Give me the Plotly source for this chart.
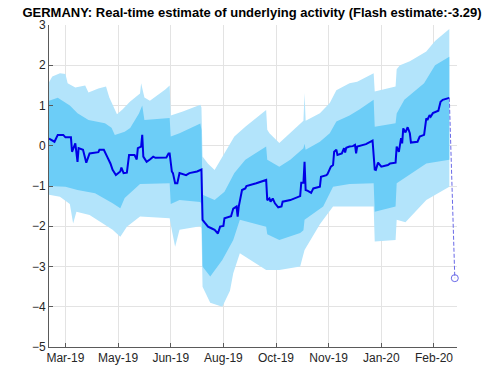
import pandas as pd
import plotly.graph_objects as go

START = "2019-03-10"  # day 0 of the series

# Main real-time estimate (days since START, value)
main_day = [0, 3, 5, 8, 13, 15, 20, 21, 24, 26, 27, 31, 33, 34, 37, 45, 46, 50, 53, 56,
            58, 61, 65, 66, 68, 71, 73, 78, 80, 81, 84, 85, 86, 89, 92, 95, 97, 107, 109, 110,
            112, 113, 115, 117, 119, 125, 128, 135, 139, 140, 142, 145, 148, 151, 154, 156, 159, 160, 166, 168,
            171, 172, 173, 174, 176, 179, 180, 189, 194, 198, 199, 201, 202, 204, 206, 209, 212, 213, 220, 229,
            230, 232, 233, 234, 236, 239, 241, 247, 248, 253, 254, 257, 259, 260, 262, 263, 267, 269, 270, 271,
            274, 277, 279, 280, 281, 289, 295, 297, 298, 300, 303, 309, 311, 316, 317, 319, 321, 322, 323, 325,
            327, 329, 330, 336, 338, 342, 344, 345, 347, 348, 350, 353, 355, 357, 359, 365]
main_val = [0.18, 0.12, 0.10, 0.27, 0.27, 0.21, 0.21, -0.15, 0.06, -0.40, -0.06, -0.10, -0.35, -0.42, -0.19, -0.16, -0.10, -0.10, -0.27, -0.44,
            -0.60, -0.73, -0.64, -0.54, -0.68, -0.67, -0.23, -0.23, -0.34, -0.06, -0.02, 0.27, -0.27, -0.40, -0.34, -0.27, -0.30, -0.29, -0.19, -0.19,
            -0.64, -0.68, -0.93, -0.93, -0.68, -0.73, -0.68, -0.64, -0.59, -1.84, -1.91, -2.01, -2.05, -2.09, -2.18, -2.01, -1.99, -1.80, -1.75, -1.56,
            -1.51, -1.76, -1.51, -1.39, -1.10, -1.06, -1.00, -0.93, -0.89, -0.85, -1.35, -1.31, -1.39, -1.31, -1.43, -1.53, -1.51, -1.39, -1.35, -1.25,
            -0.92, -0.92, -0.40, -1.10, -1.12, -1.17, -1.06, -1.02, -0.77, -0.73, -0.70, -0.52, -0.48, -0.15, -0.10, -0.23, -0.19, -0.06, -0.17, -0.05,
            -0.02, -0.01, 0.02, -0.19, -0.02, 0.04, 0.13, -0.59, -0.60, -0.42, -0.52, -0.48, -0.44, -0.42, -0.02, -0.15, 0.19, 0.06, 0.43, 0.33,
            0.46, 0.31, 0.08, 0.10, 0.23, 0.27, 0.68, 0.64, 0.76, 0.72, 0.81, 0.85, 0.87, 1.09, 1.14, 1.19]

# Outer band (upper / lower edges)
outer_hi_day = [0, 3, 10, 15, 17, 24, 33, 36, 45, 52, 55, 62, 67, 74, 83, 84, 87, 92, 106, 110,
                111, 122, 138, 139, 140, 145, 151, 160, 169, 179, 198, 199, 201, 210, 220, 232, 233, 234, 247, 256,
                262, 274, 281, 296, 297, 316, 317, 320, 329, 344, 352, 365]
outer_hi_val = [1.58, 1.72, 1.80, 1.78, 1.55, 1.45, 1.50, 1.32, 1.42, 1.47, 1.20, 0.78, 0.90, 1.10, 1.30, 1.55, 1.20, 1.12, 1.40, 1.50,
                0.75, 0.85, 1.02, 0.95, -0.27, -0.45, -0.60, -0.18, 0.23, 0.47, 0.89, 0.40, 0.31, 0.07, 0.31, 0.62, 1.31, 0.62, 0.81, 1.06,
                1.38, 1.55, 1.59, 1.80, 1.35, 1.47, 1.90, 2.00, 2.10, 2.34, 2.60, 2.90]
outer_lo_day = [0, 10, 19, 22, 25, 37, 58, 65, 71, 83, 110, 112, 115, 119, 138, 139, 140, 147, 158, 165,
                168, 174, 198, 210, 229, 233, 247, 250, 259, 274, 296, 297, 316, 317, 325, 344, 365]
outer_lo_val = [-1.22, -1.27, -1.45, -1.93, -1.64, -1.72, -2.09, -2.26, -2.01, -1.76, -1.80, -2.10, -2.51, -2.09, -2.00, -2.05, -3.50, -3.90, -4.00, -3.60,
                -3.17, -2.67, -3.09, -3.09, -3.00, -2.59, -1.95, -1.84, -1.51, -1.51, -1.51, -2.38, -2.34, -1.84, -1.90, -1.35, -1.02]

# Inner band (upper / lower edges)
inner_hi_day = [0, 8, 19, 21, 26, 36, 51, 57, 60, 69, 74, 82, 85, 87, 110, 111, 119, 138, 139, 140,
                151, 160, 169, 179, 198, 199, 210, 220, 232, 233, 234, 247, 256, 262, 274, 283, 296, 297, 316, 317,
                324, 342, 352, 365]
inner_hi_val = [1.12, 1.19, 1.00, 0.94, 0.81, 0.64, 0.56, 0.45, 0.27, 0.35, 0.44, 0.80, 1.00, 0.64, 0.69, 0.23, 0.31, 0.55, 0.40, -1.22,
                -1.35, -1.14, -0.68, -0.35, -0.02, -0.35, -0.52, -0.35, -0.06, 0.05, -0.10, 0.10, 0.31, 0.60, 0.75, 0.90, 1.14, 0.47, 0.56, 0.80,
                1.14, 1.55, 2.00, 2.21]
inner_lo_day = [0, 15, 26, 42, 58, 65, 69, 83, 110, 111, 119, 138, 139, 140, 147, 158, 168, 174, 198, 199,
                210, 229, 232, 233, 250, 259, 274, 296, 297, 316, 317, 344, 365]
inner_lo_val = [-1.00, -1.02, -1.10, -1.18, -1.43, -1.55, -1.30, -0.95, -0.93, -1.45, -1.35, -1.40, -1.47, -3.00, -3.25, -2.84, -2.34, -1.84, -2.01, -2.20,
                -2.34, -2.17, -2.10, -1.84, -1.51, -1.02, -0.95, -0.93, -1.64, -1.51, -0.93, -0.44, -0.35]

# Flash estimate
flash_day = 370
flash_val = -3.29

tick_dates = ["2019-03-25", "2019-05-12", "2019-06-29", "2019-08-16",
              "2019-10-03", "2019-11-20", "2020-01-07", "2020-02-24"]
tick_labels = ["Mar-19", "May-19", "Jun-19", "Aug-19", "Oct-19", "Nov-19", "Jan-20", "Feb-20"]
y_ticks = [-5, -4, -3, -2, -1, 0, 1, 2, 3]


def to_dates(days):
    return list(pd.Timestamp(START) + pd.to_timedelta(days, unit="D"))


def band(hi_d, hi_v, lo_d, lo_v):
    xs = to_dates(hi_d) + to_dates(lo_d)[::-1]
    ys = list(hi_v) + list(lo_v)[::-1]
    return xs, ys


LIGHT = "#b3e4fb"
MEDIUM = "#6ccdf7"
FLASH = "#6a6ae8"

fig = go.Figure()
ox, oy = band(outer_hi_day, outer_hi_val, outer_lo_day, outer_lo_val)
fig.add_trace(go.Scatter(x=ox, y=oy, fill="toself", fillcolor=LIGHT, line=dict(width=0),
                         mode="lines", hoverinfo="skip", showlegend=False))
ix, iy = band(inner_hi_day, inner_hi_val, inner_lo_day, inner_lo_val)
fig.add_trace(go.Scatter(x=ix, y=iy, fill="toself", fillcolor=MEDIUM, line=dict(width=0),
                         mode="lines", hoverinfo="skip", showlegend=False))
fig.add_trace(go.Scatter(x=to_dates(main_day), y=main_val, mode="lines",
                         line=dict(color="#0000e6", width=2), showlegend=False))
fig.add_trace(go.Scatter(x=to_dates([main_day[-1], flash_day]), y=[main_val[-1], flash_val],
                         mode="lines", line=dict(color=FLASH, width=1, dash="4px,2px"),
                         showlegend=False))
fig.add_trace(go.Scatter(x=to_dates([flash_day]), y=[flash_val], mode="markers",
                         marker=dict(symbol="circle-open", size=7, color=FLASH,
                                     line=dict(width=1, color=FLASH)),
                         cliponaxis=False, showlegend=False))

fig.update_layout(
    width=500, height=378,
    margin=dict(l=49, r=43, t=25, b=31),
    paper_bgcolor="white", plot_bgcolor="white",
    font=dict(family="Liberation Sans, Arial, sans-serif", size=12, color="#262626"),
    title=dict(text="<b>GERMANY: Real-time estimate of underlying activity (Flash estimate:-3.29)</b>",
               x=0.504, xanchor="center", y=1 - 12 / 378, yanchor="middle", yref="container",
               font=dict(size=13, color="#000000")),
)
fig.update_xaxes(
    type="date", range=["2019-03-10", "2020-03-16"],
    tickvals=tick_dates, ticktext=tick_labels,
    showgrid=True, gridcolor="#e3e3e3", gridwidth=1,
    showline=True, linecolor="#5a5a5a", linewidth=1,
    ticks="inside", ticklen=4, tickcolor="#5a5a5a",
    zeroline=False, tickfont=dict(size=12, color="#262626"),
)
fig.update_yaxes(
    range=[-5, 3], tickvals=y_ticks,
    showgrid=True, gridcolor="#e3e3e3", gridwidth=1,
    showline=True, linecolor="#5a5a5a", linewidth=1,
    ticks="inside", ticklen=4, tickcolor="#5a5a5a",
    zeroline=False, tickfont=dict(size=12, color="#262626"),
)

fig.write_html("out.html", config={"displayModeBar": False},
               post_script="document.body.style.margin='0';")
